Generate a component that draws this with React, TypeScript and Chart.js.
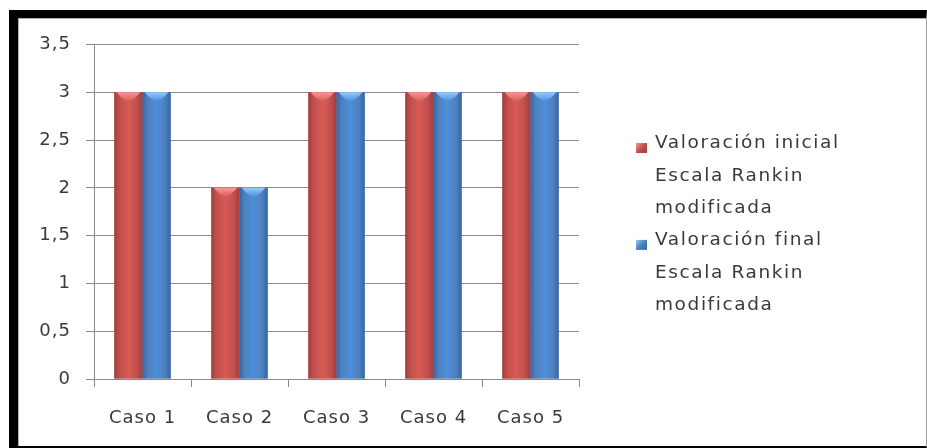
import React, { useEffect, useRef } from 'react';
import { Chart, registerables } from 'chart.js';

Chart.register(...registerables);

const categories = ['Caso 1', 'Caso 2', 'Caso 3', 'Caso 4', 'Caso 5'];
const initialValues = [3, 2, 3, 3, 3];
const finalValues = [3, 2, 3, 3, 3];
const seriesNames = [
  'Valoración inicial Escala Rankin modificada',
  'Valoración final Escala Rankin modificada',
];
const legendLines = [
  ['Valoración inicial', 'Escala Rankin', 'modificada'],
  ['Valoración final', 'Escala Rankin', 'modificada'],
];
const yMin = 0;
const yMax = 3.5;
const yStep = 0.5;

const FONT = '"DejaVu Sans", Verdana, sans-serif';
const TEXT = '#3a3a3a';
const GRID = '#8a8a8a';

const palettes = [
  { base: '#C0504D', dark: '#A13E3B', light: '#D85A55', cap: '#F49A98' },
  { base: '#4F81BD', dark: '#3565A6', light: '#4C8EDC', cap: '#96CDF5' },
];

const W = 908;
const H = 428;

const spacingPlugin = {
  id: 'spacing',
  beforeUpdate(chart: any) {
    chart.ctx.letterSpacing = '1px';
  },
  beforeDraw(chart: any) {
    chart.ctx.letterSpacing = '1px';
  },
};

const barStylePlugin = {
  id: 'barStyle',
  afterDatasetsDraw(chart: any) {
    const ctx = chart.ctx;
    chart.data.datasets.forEach((_: any, di: number) => {
      const meta = chart.getDatasetMeta(di);
      const p = palettes[di];
      meta.data.forEach((bar: any) => {
        const { x, y, base, width } = bar.getProps(['x', 'y', 'base', 'width'], true);
        const left = x - width / 2;
        const g = ctx.createLinearGradient(left, 0, left + width, 0);
        g.addColorStop(0, p.dark);
        g.addColorStop(0.18, p.base);
        g.addColorStop(0.5, p.light);
        g.addColorStop(0.8, p.base);
        g.addColorStop(1, p.dark);
        ctx.save();
        ctx.fillStyle = g;
        ctx.fillRect(left, y, width, base - y);
        const cw = width * 0.42;
        const cg = ctx.createLinearGradient(0, y, 0, y + 9);
        cg.addColorStop(0, p.cap);
        cg.addColorStop(1, p.light);
        ctx.fillStyle = cg;
        ctx.beginPath();
        ctx.moveTo(x - cw, y);
        ctx.lineTo(x + cw, y);
        ctx.quadraticCurveTo(x + cw * 0.35, y + 9, x, y + 9);
        ctx.quadraticCurveTo(x - cw * 0.35, y + 9, x - cw, y);
        ctx.closePath();
        ctx.fill();
        ctx.restore();
      });
    });
  },
};

const legendPlugin = {
  id: 'sideLegend',
  afterDraw(chart: any) {
    const ctx = chart.ctx;
    const textX = 637;
    const firstY = 125.5;
    const lineGap = 32.3;
    ctx.save();
    ctx.font = `18.5px ${FONT}`;
    ctx.letterSpacing = '1.6px';
    ctx.fillStyle = TEXT;
    ctx.textBaseline = 'middle';
    ctx.textAlign = 'left';
    let line = 0;
    legendLines.forEach((lines, i) => {
      const p = palettes[i];
      const cy = firstY + line * lineGap;
      const mx = 618;
      const my = cy - 0.5;
      const mg = ctx.createLinearGradient(mx, my, mx + 11, my + 10);
      mg.addColorStop(0, p.cap);
      mg.addColorStop(0.5, p.base);
      mg.addColorStop(1, p.dark);
      ctx.fillStyle = mg;
      ctx.fillRect(mx, my, 11, 10);
      ctx.fillStyle = TEXT;
      lines.forEach((t) => {
        ctx.fillText(t, textX, firstY + line * lineGap);
        line++;
      });
    });
    ctx.restore();
  },
};

export default function App() {
  const ref = useRef<HTMLCanvasElement>(null);
  useEffect(() => {
    const chart = new Chart(ref.current!, {
      type: 'bar',
      data: {
        labels: categories,
        datasets: [
          { label: seriesNames[0], data: initialValues, backgroundColor: palettes[0].base, borderWidth: 0 },
          { label: seriesNames[1], data: finalValues, backgroundColor: palettes[1].base, borderWidth: 0 },
        ],
      },
      options: {
        responsive: false,
        animation: false,
        devicePixelRatio: 1,
        layout: { padding: { top: 26.5, right: W - 561, left: 0, bottom: 0 } },
        plugins: { legend: { display: false }, tooltip: { enabled: false } },
        datasets: { bar: { categoryPercentage: 0.58, barPercentage: 1.0 } },
        scales: {
          x: {
            offset: true,
            grid: { display: true, drawOnChartArea: false, drawTicks: true, tickLength: 8, color: GRID, offset: true },
            border: { display: true, color: GRID, width: 1 },
            ticks: { color: TEXT, font: { family: FONT, size: 18 }, padding: 21, maxRotation: 0 },
            afterFit: (s: any) => { s.height = H - 361; },
          },
          y: {
            min: yMin,
            max: yMax,
            ticks: {
              stepSize: yStep,
              color: TEXT,
              font: { family: FONT, size: 18 },
              padding: 15,
              callback: (v: any) => String(v).replace('.', ','),
            },
            grid: { color: GRID, tickLength: 8, drawTicks: true },
            border: { display: true, color: GRID, width: 1 },
            afterFit: (s: any) => { s.width = 76; },
          },
        },
      },
      plugins: [spacingPlugin, barStylePlugin, legendPlugin],
    });
    return () => chart.destroy();
  }, []);
  return (
    <div
      style={{
        position: 'absolute',
        left: 9,
        top: 10,
        width: 918,
        height: 438,
        boxSizing: 'border-box',
        borderTop: '8px solid #000',
        borderLeft: '9px solid #000',
        borderRight: '1px solid #9a9a9a',
        borderBottom: '2px solid #000',
        background: '#fff',
        boxShadow: 'inset 1px 1px 0 #b0b0b0',
      }}
    >
      <canvas ref={ref} width={W} height={H} style={{ display: 'block', width: W, height: H }} />
    </div>
  );
}
